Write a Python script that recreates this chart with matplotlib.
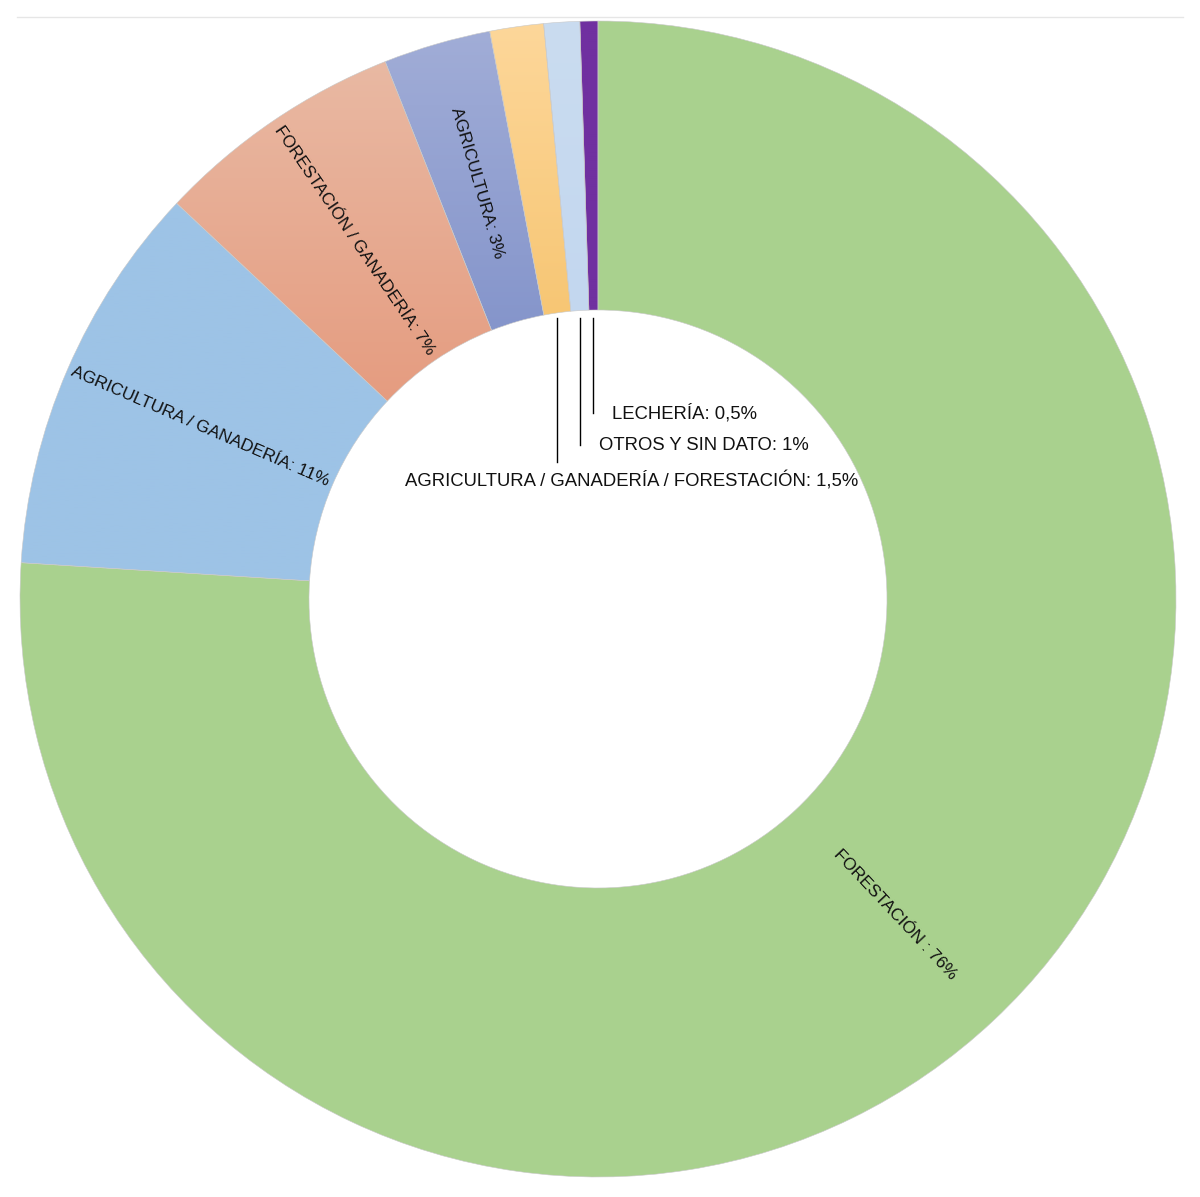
import numpy as np
import matplotlib
matplotlib.use('Agg')
import matplotlib.pyplot as plt
from matplotlib.patches import Wedge
from matplotlib.colors import LinearSegmentedColormap

plt.rcParams['font.family'] = ['Liberation Sans Narrow', 'Liberation Sans', 'DejaVu Sans']

# data
labels = ['FORESTACIÓN ', 'AGRICULTURA / GANADERÍA', 'FORESTACIÓN / GANADERÍA',
          'AGRICULTURA', 'AGRICULTURA / GANADERÍA / FORESTACIÓN',
          'OTROS Y SIN DATO', 'LECHERÍA']
values = [76, 11, 7, 3, 1.5, 1, 0.5]
value_txt = ['76%', '11%', '7%', '3%', '1,5%', '1%', '0,5%']
# (top colour, bottom colour) - slight vertical gradient like the original
colors = [('#a9d18e', '#a9d18e'), ('#9dc3e6', '#9dc3e6'), ('#e9b9a3', '#e59c80'),
          ('#a1add7', '#8595cb'), ('#fdd79a', '#f7c674'), ('#cadcf0', '#c3d7ef'),
          ('#7030a0', '#7030a0')]

R = 578.0
r_in = 289.0
cx, cy = 598.0, 599.0

fig = plt.figure(figsize=(12, 11.97), dpi=100)
ax = fig.add_axes([0, 0, 1, 1])
ax.set_xlim(-cx / R, (1200 - cx) / R)
ax.set_ylim((cy - 1197) / R, cy / R)
ax.set_aspect('equal')
ax.axis('off')

# thin light border line at top
ax.plot([(17 - cx) / R, (1183 - cx) / R], [(cy - 16.5) / R] * 2, color='#e6e6e6', lw=1)

w_in = 1 - r_in / R
total = sum(values)
start = 90.0
mids = []
for lab, v, (c1, c2) in zip(labels, values, colors):
    ang = 360.0 * v / total
    t1, t2 = start - ang, start
    wed = Wedge((0, 0), 1, t1, t2, width=w_in, facecolor='none',
                edgecolor='#c9c9c9', lw=0.4)
    ax.add_patch(wed)
    # gradient fill clipped to the wedge
    th = np.radians(np.linspace(t1, t2, 50))
    ys = np.concatenate([np.sin(th), (1 - w_in) * np.sin(th)])
    ytop, ybot = ys.max(), ys.min()
    cmap = LinearSegmentedColormap.from_list('g', [c2, c1])
    grad = np.linspace(0, 1, 256).reshape(-1, 1)
    im = ax.imshow(grad, cmap=cmap, origin='lower', aspect='auto',
                   extent=[-1, 1, ybot, ytop], zorder=0.5, interpolation='bilinear')
    im.set_clip_path(wed)
    mids.append(np.radians((t1 + t2) / 2))
    start = t1

fs = 13.3
r_mid = (1 + (1 - w_in)) / 2
# big slices: radial labels inside the ring
for i in range(4):
    a = mids[i]
    rot = np.degrees(a)
    rot = (rot + 90) % 180 - 90
    ax.text(r_mid * np.cos(a), r_mid * np.sin(a), labels[i] + ': ' + value_txt[i],
            rotation=rot, rotation_mode='anchor', ha='center', va='center',
            fontsize=12.4, color='#111111')

# small slices: leader lines into the hole
ends = [462, 445, 413]  # pixel y where leaders stop
for i, yend in zip([4, 5, 6], ends):
    a = mids[i]
    x = r_in / R * np.cos(a)
    y0 = (cy - 318) / R
    y1 = (cy - yend) / R
    ax.plot([x, x], [y0, y1], color='black', lw=1)
    txt = labels[i] + ': ' + value_txt[i]
    if i == 4:
        ax.text((632 - cx) / R, (cy - 481) / R, txt, ha='center', va='center',
                fontsize=fs, color='#111111')
    else:
        ax.text(x + 19 / R, y1, txt, ha='left', va='center',
                fontsize=fs, color='#111111')

fig.savefig('out.png', dpi=100, facecolor='white')
